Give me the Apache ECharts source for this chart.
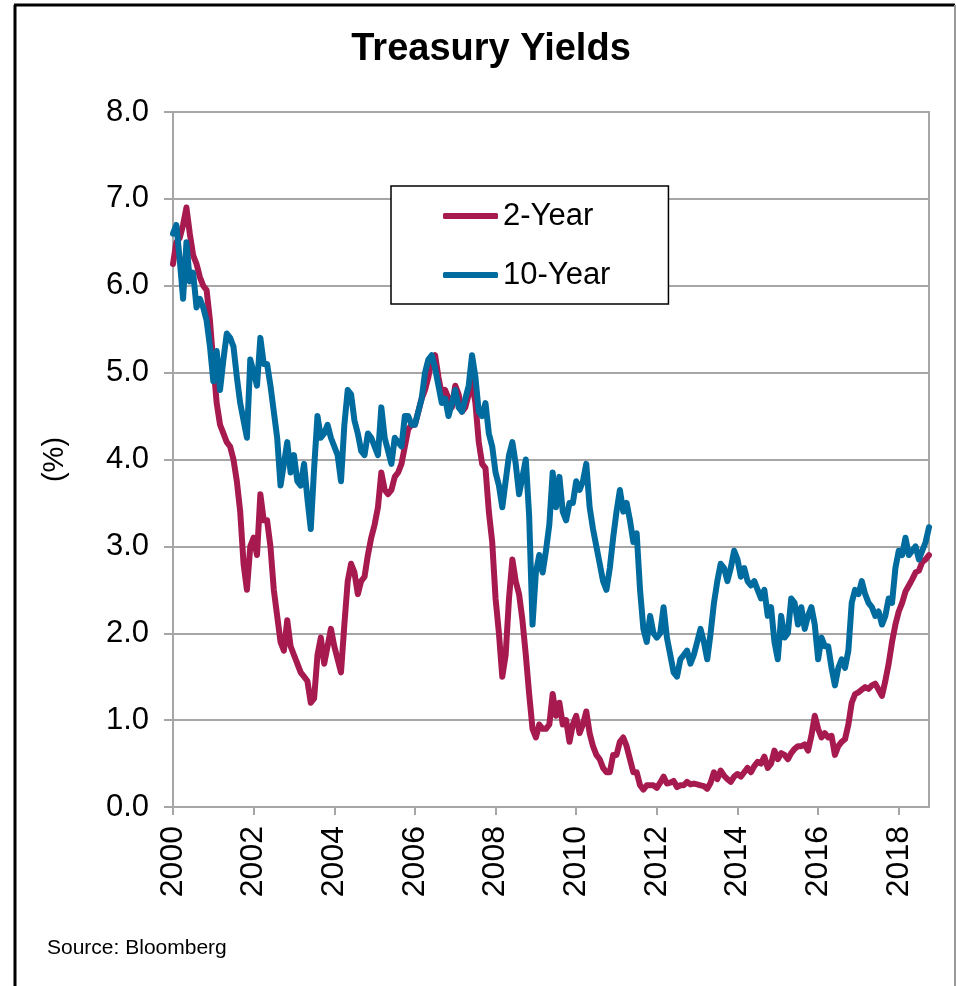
<!DOCTYPE html>
<html>
<head>
<meta charset="utf-8">
<script src="https://cdn.jsdelivr.net/npm/echarts/dist/echarts.min.js"></script>
<style>
html,body{margin:0;padding:0;background:#fff;}
#chart{width:956px;height:986px;}
</style>
</head>
<body>
<div id="chart"></div>
<script>
// Monthly observations, first point Jan 2000, last point Oct 2018
const startYear = 2000;
const yearTicks = [2000, 2002, 2004, 2006, 2008, 2010, 2012, 2014, 2016, 2018];
const yTicks = [0, 1, 2, 3, 4, 5, 6, 7, 8];

const twoYear = [
  6.25, 6.5, 6.55, 6.7, 6.9, 6.6, 6.35, 6.25, 6.1, 6.0, 5.95, 5.6,      // 2000
  5.1, 4.65, 4.4, 4.3, 4.2, 4.15, 4.0, 3.75, 3.4, 2.8, 2.5, 3.0,        // 2001
  3.1, 2.9, 3.6, 3.3, 3.3, 3.0, 2.5, 2.2, 1.9, 1.8, 2.15, 1.85,         // 2002
  1.75, 1.65, 1.55, 1.5, 1.45, 1.2, 1.25, 1.75, 1.95, 1.65, 1.85, 2.05, // 2003
  1.85, 1.7, 1.55, 2.1, 2.6, 2.8, 2.7, 2.45, 2.6, 2.65, 2.9, 3.1,       // 2004
  3.25, 3.45, 3.85, 3.65, 3.6, 3.65, 3.8, 3.85, 3.95, 4.15, 4.35, 4.4,  // 2005
  4.4, 4.55, 4.7, 4.8, 4.95, 5.15, 5.2, 4.95, 4.75, 4.8, 4.7, 4.6,      // 2006
  4.85, 4.75, 4.55, 4.6, 4.75, 4.9, 4.65, 4.2, 3.95, 3.9, 3.4, 3.05,    // 2007
  2.4, 2.0, 1.5, 1.75, 2.4, 2.85, 2.6, 2.45, 2.15, 1.75, 1.3, 0.9,      // 2008
  0.8, 0.95, 0.9, 0.9, 0.95, 1.3, 1.05, 1.2, 0.95, 1.0, 0.75, 0.95,     // 2009
  1.05, 0.85, 0.95, 1.1, 0.85, 0.7, 0.6, 0.55, 0.45, 0.4, 0.4, 0.6,     // 2010
  0.6, 0.75, 0.8, 0.7, 0.55, 0.4, 0.4, 0.25, 0.2, 0.25, 0.25, 0.25,     // 2011
  0.22, 0.28, 0.35, 0.27, 0.28, 0.3, 0.23, 0.25, 0.25, 0.29, 0.26, 0.27,// 2012
  0.26, 0.25, 0.24, 0.21, 0.28, 0.4, 0.32, 0.42, 0.36, 0.32, 0.29, 0.35,// 2013
  0.38, 0.35, 0.4, 0.45, 0.4, 0.47, 0.52, 0.5, 0.58, 0.45, 0.5, 0.65,   // 2014
  0.55, 0.62, 0.6, 0.55, 0.62, 0.67, 0.7, 0.7, 0.72, 0.65, 0.82, 1.05,  // 2015
  0.9, 0.8, 0.85, 0.8, 0.82, 0.6, 0.7, 0.75, 0.78, 0.95, 1.2, 1.3,      // 2016
  1.32, 1.35, 1.38, 1.36, 1.4, 1.42, 1.35, 1.28, 1.45, 1.65, 1.9, 2.1,  // 2017
  2.25, 2.35, 2.48, 2.55, 2.62, 2.7, 2.72, 2.82, 2.85, 2.9              // 2018
];

const tenYear = [
  6.6, 6.7, 6.3, 5.85, 6.5, 6.05, 6.15, 5.75, 5.85, 5.75, 5.6, 5.3,     // 2000
  4.9, 5.25, 4.8, 5.15, 5.45, 5.4, 5.3, 4.95, 4.65, 4.45, 4.25, 5.15,   // 2001
  5.0, 4.85, 5.4, 5.1, 5.1, 4.85, 4.55, 4.25, 3.7, 3.95, 4.2, 3.85,     // 2002
  4.05, 3.75, 3.7, 3.95, 3.55, 3.2, 3.9, 4.5, 4.25, 4.3, 4.4, 4.25,     // 2003
  4.15, 4.05, 3.75, 4.4, 4.8, 4.75, 4.45, 4.3, 4.1, 4.05, 4.3, 4.25,    // 2004
  4.15, 4.05, 4.6, 4.25, 4.1, 3.95, 4.25, 4.2, 4.15, 4.5, 4.5, 4.4,     // 2005
  4.4, 4.55, 4.7, 5.0, 5.15, 5.2, 5.05, 4.85, 4.65, 4.7, 4.5, 4.65,     // 2006
  4.8, 4.6, 4.55, 4.7, 4.85, 5.2, 4.95, 4.55, 4.5, 4.65, 4.3, 4.15,     // 2007
  3.85, 3.7, 3.45, 3.75, 4.05, 4.2, 3.95, 3.6, 3.8, 4.0, 3.35, 2.1,     // 2008
  2.7, 2.9, 2.7, 2.95, 3.25, 3.85, 3.45, 3.8, 3.4, 3.3, 3.5, 3.5,       // 2009
  3.75, 3.65, 3.75, 3.95, 3.45, 3.2, 3.0, 2.8, 2.6, 2.5, 2.75, 3.1,     // 2010
  3.4, 3.65, 3.4, 3.5, 3.3, 3.05, 3.15, 2.5, 2.05, 1.9, 2.2, 2.0,       // 2011
  1.95, 2.0, 2.3, 1.95, 1.75, 1.55, 1.5, 1.7, 1.75, 1.8, 1.65, 1.75,    // 2012
  1.9, 2.05, 1.9, 1.7, 2.0, 2.35, 2.6, 2.8, 2.75, 2.6, 2.75, 2.95,      // 2013
  2.85, 2.65, 2.75, 2.6, 2.55, 2.6, 2.5, 2.4, 2.5, 2.2, 2.3, 1.9,       // 2014
  1.7, 2.2, 1.95, 2.0, 2.4, 2.35, 2.1, 2.3, 2.05, 2.2, 2.3, 2.1,        // 2015
  1.7, 1.95, 1.85, 1.85, 1.6, 1.4, 1.6, 1.7, 1.6, 1.8, 2.35, 2.5,       // 2016
  2.45, 2.6, 2.45, 2.35, 2.3, 2.2, 2.25, 2.1, 2.2, 2.4, 2.35, 2.75,     // 2017
  2.95, 2.9, 3.1, 2.9, 2.95, 3.0, 2.85, 2.95, 3.05, 3.22                // 2018
];

const seriesNames = ['2-Year', '10-Year'];
const seriesColors = ['#A61A4F', '#006B9E'];

function toPairs(values) {
  return values.map((v, i) => [startYear + i / 12, v]);
}

const FONT = '"Liberation Sans", Arial, Helvetica, sans-serif';
const chart = echarts.init(document.getElementById('chart'), null, {renderer: 'canvas'});

chart.setOption({
  animation: false,
  backgroundColor: '#ffffff',
  textStyle: {fontFamily: FONT, color: '#000'},
  title: {
    text: 'Treasury Yields',
    left: 486,
    textAlign: 'center',
    top: 26,
    textStyle: {fontFamily: FONT, fontSize: 38, fontWeight: 'bold', color: '#000'}
  },
  grid: {
    left: 173, right: 27, top: 112, bottom: 179,
    show: true, borderColor: '#A6A6A6', borderWidth: 2, backgroundColor: 'transparent'
  },
  legend: {
    data: seriesNames,
    orient: 'vertical',
    left: 391,
    top: 186,
    padding: [14, 58, 13, 52],
    itemGap: 27,
    itemWidth: 55,
    itemHeight: 6,
    icon: 'roundRect',
    backgroundColor: '#fff',
    borderColor: '#000',
    borderWidth: 1.5,
    borderRadius: 0,
    textStyle: {fontFamily: FONT, fontSize: 31, color: '#000', lineHeight: 32}
  },
  xAxis: {
    type: 'value',
    min: 2000,
    max: 2018.75,
    interval: 2,
    axisLine: {show: true, lineStyle: {color: '#A6A6A6', width: 2}},
    axisTick: {show: true, length: 8, lineStyle: {color: '#A6A6A6', width: 2}, customValues: yearTicks},
    axisLabel: {
      customValues: yearTicks,
      rotate: 90,
      margin: 19,
      fontSize: 32,
      fontFamily: FONT,
      color: '#000',
      formatter: v => String(Math.round(v))
    },
    splitLine: {show: false}
  },
  yAxis: {
    type: 'value',
    min: 0,
    max: 8,
    interval: 1,
    name: '(%)',
    nameLocation: 'middle',
    nameRotate: 90,
    nameGap: 104,
    nameTextStyle: {fontFamily: FONT, fontSize: 29, color: '#000'},
    axisLine: {show: true, lineStyle: {color: '#A6A6A6', width: 2}},
    axisTick: {show: true, inside: false, length: 9, lineStyle: {color: '#A6A6A6', width: 2}},
    axisLabel: {
      margin: 24,
      fontSize: 31,
      fontFamily: FONT,
      color: '#000',
      formatter: v => v.toFixed(1)
    },
    splitLine: {show: true, lineStyle: {color: '#A6A6A6', width: 2}}
  },
  series: [
    {
      name: seriesNames[0],
      type: 'line',
      data: toPairs(twoYear),
      showSymbol: false,
      symbol: 'none',
      color: seriesColors[0],
      lineStyle: {color: seriesColors[0], width: 6, join: 'round', cap: 'round'},
      z: 2
    },
    {
      name: seriesNames[1],
      type: 'line',
      data: toPairs(tenYear),
      showSymbol: false,
      symbol: 'none',
      color: seriesColors[1],
      lineStyle: {color: seriesColors[1], width: 6, join: 'round', cap: 'round'},
      z: 3
    }
  ],
  graphic: [
    {type: 'line', shape: {x1: 14, y1: 5, x2: 955, y2: 5}, style: {stroke: '#000', lineWidth: 3}, silent: true},
    {type: 'line', shape: {x1: 15, y1: 5, x2: 15, y2: 986}, style: {stroke: '#000', lineWidth: 3}, silent: true},
    {type: 'line', shape: {x1: 955, y1: 5, x2: 955, y2: 986}, style: {stroke: '#999', lineWidth: 2}, silent: true},
    {
      type: 'text',
      left: 47,
      top: 938,
      style: {text: 'Source: Bloomberg', font: '21px ' + FONT, fill: '#000'},
      silent: true
    }
  ]
});
</script>
</body>
</html>
